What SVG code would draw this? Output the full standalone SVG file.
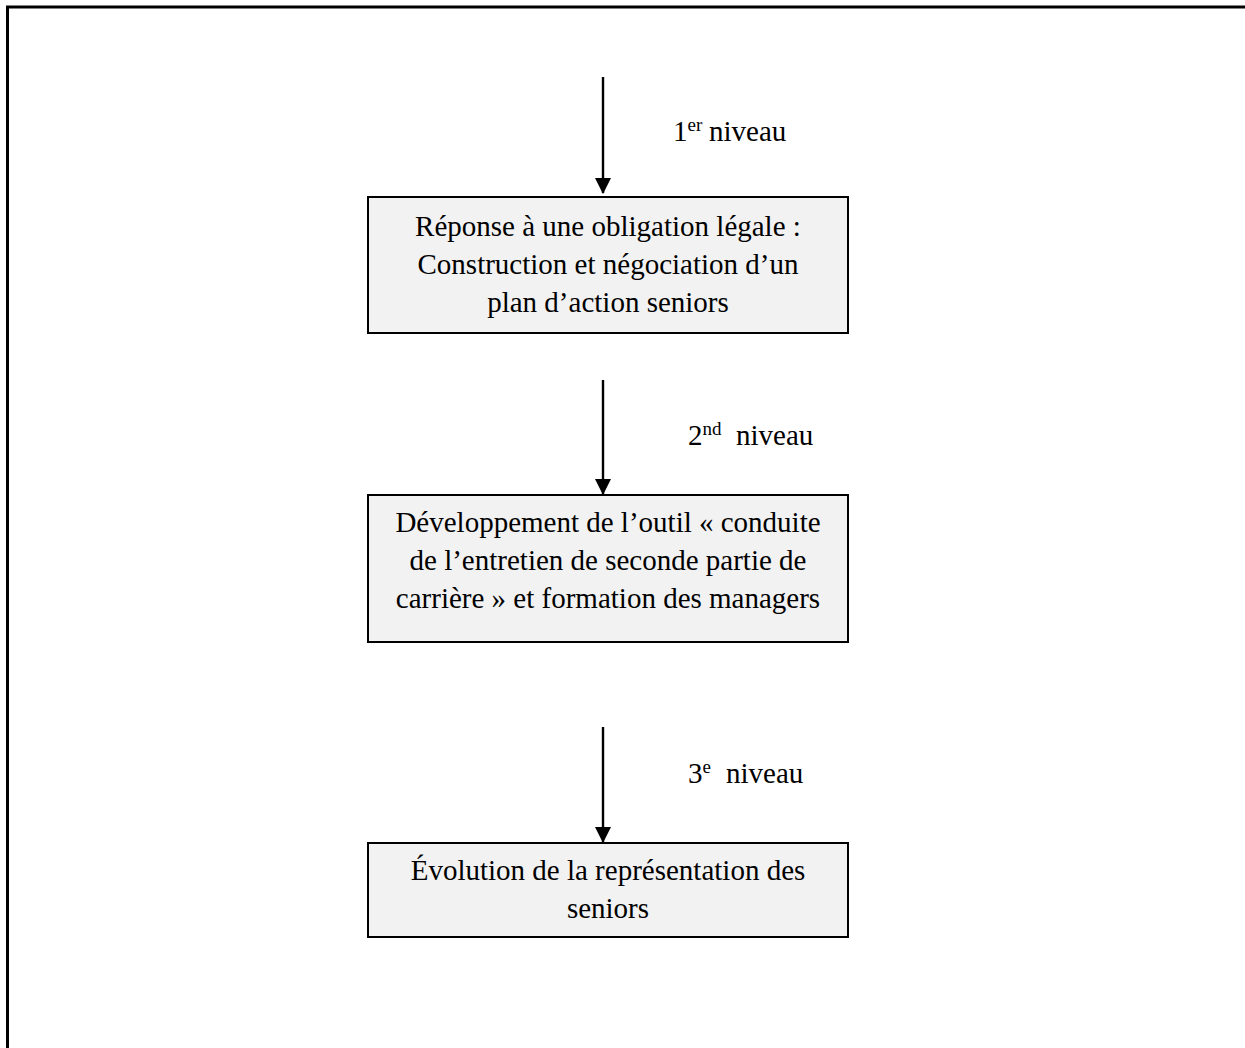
<svg xmlns="http://www.w3.org/2000/svg" width="1245" height="1048" viewBox="0 0 1245 1048">
<style>
.box{fill:#f2f2f2;stroke:#000;stroke-width:2}
.t{font-family:"Liberation Serif","Times New Roman",serif;font-size:29px;fill:#000}
.c{text-anchor:middle}
.conn{stroke:#000;stroke-width:2.4;fill:none}
.sup{font-size:19px}
</style>
<defs>
<marker id="ah" markerUnits="userSpaceOnUse" markerWidth="16" markerHeight="17" refX="15" refY="8" orient="auto">
<path d="M0,0 L16,8 L0,16 Z" fill="#000"/>
</marker>
</defs>
<rect width="1245" height="1048" fill="#fff"/>
<g id="frame">
<line x1="6" y1="7" x2="1245" y2="7" stroke="#000" stroke-width="3"/>
<line x1="7.5" y1="6" x2="7.5" y2="1048" stroke="#000" stroke-width="3"/>
</g>
<g id="connectors">
<line class="conn" x1="603" y1="77" x2="603" y2="193" marker-end="url(#ah)"/>
<line class="conn" x1="603" y1="380" x2="603" y2="494" marker-end="url(#ah)"/>
<line class="conn" x1="603" y1="727" x2="603" y2="842" marker-end="url(#ah)"/>
<text class="t" x="673" y="141">1<tspan class="sup" dy="-10">er</tspan><tspan x="709" dy="10">niveau</tspan></text>
<text class="t" x="688" y="445">2<tspan class="sup" dy="-10">nd</tspan><tspan x="736" dy="10">niveau</tspan></text>
<text class="t" x="688" y="783">3<tspan class="sup" dy="-10">e</tspan><tspan x="726" dy="10">niveau</tspan></text>
</g>
<g id="node1">
<rect class="box" x="368" y="197" width="480" height="136"/>
<text class="t c"><tspan x="608" y="236">Réponse à une obligation légale :</tspan><tspan x="608" y="274">Construction et négociation d’un</tspan><tspan x="608" y="312">plan d’action seniors</tspan></text>
</g>
<g id="node2">
<rect class="box" x="368" y="495" width="480" height="147"/>
<text class="t c"><tspan x="608" y="532">Développement de l’outil « conduite</tspan><tspan x="608" y="570">de l’entretien de seconde partie de</tspan><tspan x="608" y="608">carrière » et formation des managers</tspan></text>
</g>
<g id="node3">
<rect class="box" x="368" y="843" width="480" height="94"/>
<text class="t c"><tspan x="608" y="880">Évolution de la représentation des</tspan><tspan x="608" y="918">seniors</tspan></text>
</g>
</svg>
